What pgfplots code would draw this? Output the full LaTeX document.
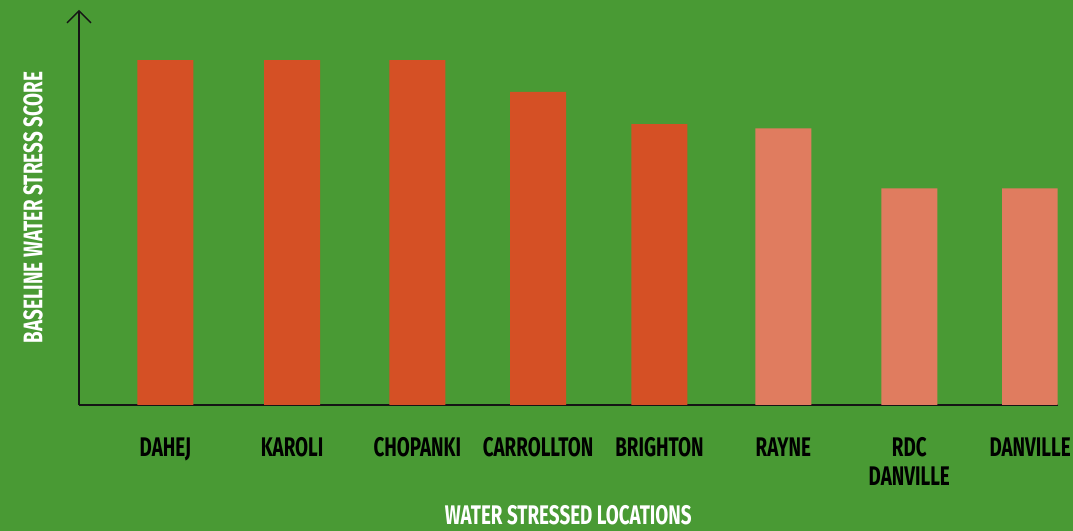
\documentclass[border=0pt]{standalone}
\usepackage{fontspec}
\setmainfont{Fira Sans}[FakeStretch=0.7]
\usepackage{pgfplots}
\pgfplotsset{compat=1.18}
\usetikzlibrary{arrows.meta}
\definecolor{bg}{HTML}{499A34}
\definecolor{darkbar}{HTML}{D55025}
\definecolor{lightbar}{HTML}{E07C5F}
\definecolor{axisc}{HTML}{151515}
\begin{document}
\begin{tikzpicture}
\fill[bg] (0,0) rectangle (1073bp,531bp);
\useasboundingbox (0,0) rectangle (1073bp,531bp);
\begin{axis}[
  at={(79bp,126bp)}, anchor=south west,
  scale only axis, width=978.5bp, height=395bp,
  xmin=-0.699, xmax=7.222, ymin=0, ymax=5.725,
  axis x line=bottom, axis y line=left,
  x axis line style={-, line width=1.5bp, draw=axisc},
  y axis line style={-{Straight Barb[length=12bp,width=24bp,line width=1.3bp]}, line width=1.5bp, draw=axisc},
  ytick=\empty,
  xtick={0,1.026,2.04,3.017,4.0,5.002,6.022,7.0},
  xticklabels={DAHEJ,KAROLI,CHOPANKI,CARROLLTON,BRIGHTON,RAYNE,{RDC\\DANVILLE},DANVILLE},
  major x tick style={draw=none},
  xticklabel style={font=\bfseries\fontsize{27}{29}\selectfont, align=center, anchor=north, yshift=-25bp, text=black},
  xlabel={WATER STRESSED LOCATIONS},
  ylabel={BASELINE WATER STRESS SCORE},
  xlabel style={font=\bfseries\fontsize{27}{29}\selectfont, text=white, at={(axis description cs:0.5,0)}, anchor=center, yshift=-110bp},
  ylabel style={font=\bfseries\fontsize{27}{29}\selectfont, text=white, at={(axis description cs:0,0.5)}, anchor=center, yshift=46bp},
  ybar, bar width=56bp,
]
\addplot[fill=darkbar, draw=none, bar shift=0pt] coordinates {(0,5) (1.026,5) (2.04,5) (3.017,4.54) (4.0,4.07)};
\addplot[fill=lightbar, draw=none, bar shift=0pt] coordinates {(5.002,4.01) (6.022,3.14) (7.0,3.14)};
\end{axis}
\end{tikzpicture}
\end{document}
